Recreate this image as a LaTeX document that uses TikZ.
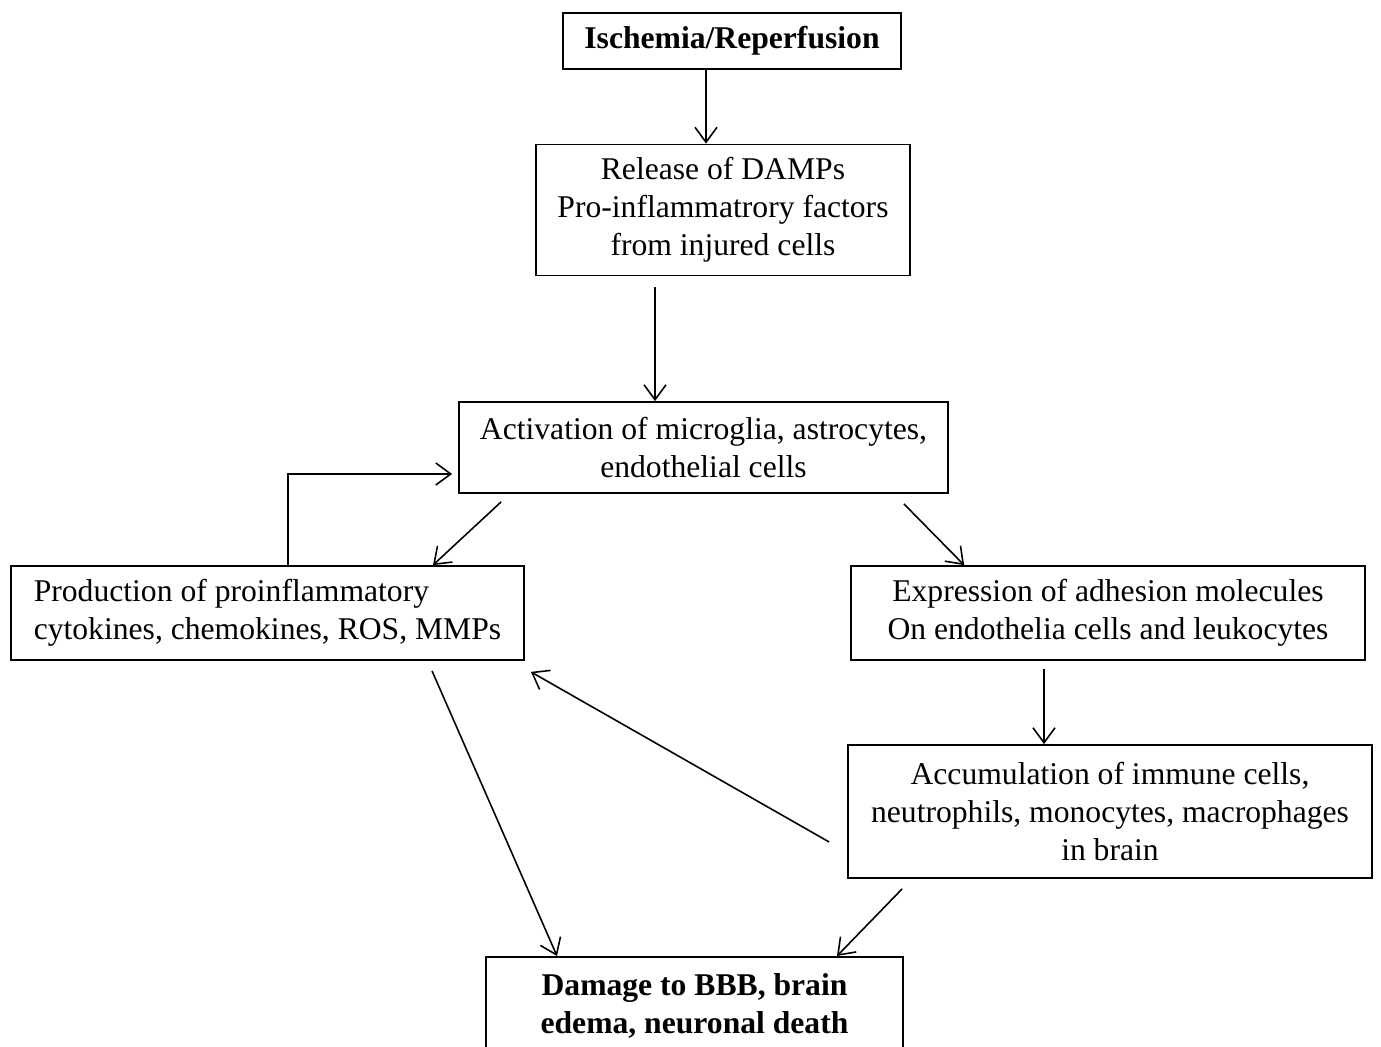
\documentclass[tikz,border=0pt]{standalone}
\usepackage{fontspec}
\setmainfont{Liberation Serif}
\usetikzlibrary{arrows.meta}
\begin{document}
\begin{tikzpicture}[
    box/.style={draw,line width=1pt,align=center,inner sep=0pt,font=\fontsize{18}{21.6}\selectfont},
    arr/.style={->,>={Straight Barb[length=0.3cm,width=0.44cm]},line width=0.9pt}
  ]
      \useasboundingbox (0,0) rectangle (27.62,-20.94);
      \node[box,minimum width=6.76cm,minimum height=1.12cm,font=\fontsize{18}{21.6}\selectfont\bfseries] (isch) at (14.64,-0.82) {Ischemia/Reperfusion};
      \node[box,minimum width=7.48cm,minimum height=2.62cm] (rel) at (14.46,-4.2) {Release of DAMPs\\Pro-inflammatrory factors\\from injured cells};
      \node[box,minimum width=9.78cm,minimum height=1.82cm] (act) at (14.07,-8.95) {Activation of microglia, astrocytes,\\endothelial cells};
      \node[box,align=left,minimum width=10.26cm,minimum height=1.88cm] (prod) at (5.35,-12.26) {Production of proinflammatory\\cytokines, chemokines, ROS, MMPs};
      \node[box,minimum width=10.28cm,minimum height=1.88cm] (expr) at (22.16,-12.26) {Expression of adhesion molecules\\On endothelia cells and leukocytes};
      \node[box,minimum width=10.48cm,minimum height=2.66cm] (acc) at (22.2,-16.23) {Accumulation of immune cells,\\neutrophils, monocytes, macrophages\\in brain};
      \node[box,anchor=north,minimum width=8.34cm,inner ysep=0.34cm,font=\fontsize{18}{21.6}\selectfont\bfseries] (dam) at (13.89,-19.12) {Damage to BBB, brain\\edema, neuronal death\\[0.6cm]};
      % free ends of the connectors
      \coordinate (i1) at ([xshift=-0.52cm]isch.south);
      \coordinate (r1) at ([xshift=-1.36cm,yshift=-0.22cm]rel.south);
      \coordinate (a1) at ([xshift=0.86cm,yshift=-0.16cm]act.south west);
      \coordinate (a2) at ([xshift=-0.9cm,yshift=-0.2cm]act.south east);
      \coordinate (e1) at ([xshift=-1.28cm,yshift=-0.16cm]expr.south);
      \coordinate (f1) at ([xshift=0.41cm]prod.north);
      \coordinate (c1) at ([xshift=-0.36cm,yshift=-0.61cm]acc.west);
      \coordinate (c2) at ([xshift=1.1cm,yshift=-0.2cm]acc.south west);
      \coordinate (p1) at ([xshift=3.29cm,yshift=-0.2cm]prod.south);
      \draw[arr] (i1) -- (i1 |- rel.north);
      \draw[arr] (r1) -- (r1 |- act.north);
      \draw[arr] (a1) -- ([xshift=3.31cm]prod.north);
      \draw[arr] (a2) -- ([xshift=2.28cm]expr.north west);
      \draw[arr] (e1) -- (e1 |- acc.north);
      \draw[arr,shorten >=0.12cm] (f1) |- ([yshift=-0.53cm]act.west);
      \draw[arr] (c1) -- ([xshift=0.12cm,yshift=-0.22cm]prod.south east);
      \draw[arr] (p1) -- ([xshift=-2.75cm]dam.north);
      \draw[arr] (c2) -- ([xshift=2.85cm]dam.north);
\end{tikzpicture}
\end{document}
